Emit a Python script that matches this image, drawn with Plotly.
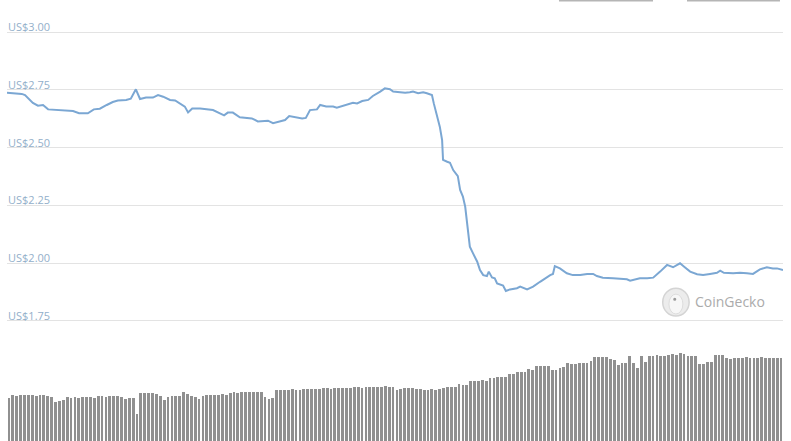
import plotly.graph_objects as go

# ---- data ----
# time in hours since start of the 7-day window
price_hours = [0.0, 3.2, 3.9, 5.6, 6.7, 7.8, 8.9, 11.5, 14.3, 15.6, 17.5, 18.8, 20.1, 21.6, 22.9,
               24.0, 25.8, 26.8, 27.9, 28.8, 30.1, 31.6, 32.7, 33.8, 35.3, 36.4, 37.5, 38.5, 39.2,
               40.1, 41.8, 44.6, 46.1, 47.0, 47.8, 48.9, 50.4, 53.0, 54.3, 55.9, 56.5, 57.6, 59.1,
               60.2, 61.1, 62.8, 63.9, 64.7, 65.6, 67.1, 67.8, 69.1, 70.6, 71.4, 72.7, 74.2, 74.9,
               75.8, 76.9, 78.2, 79.2, 80.8, 81.8, 82.9, 83.6, 85.1, 86.2, 87.2, 87.9, 89.0, 90.1,
               90.9, 91.6, 92.0, 92.4, 93.1, 93.7, 94.2, 94.4, 95.3, 95.9, 96.6, 97.6, 98.1, 98.7,
               99.2, 99.6, 100.2, 100.9, 101.8, 102.4, 103.1, 103.9, 104.3, 105.0, 105.6, 106.1,
               107.4, 108.0, 108.9, 110.4, 111.1, 112.6, 113.9, 115.4, 116.5, 117.6, 118.2, 118.6,
               119.7, 121.2, 122.5, 124.1, 125.6, 126.9, 127.7, 129.0, 131.2, 132.7, 134.2, 134.9,
               137.0, 138.6, 139.9, 141.4, 142.9, 144.2, 145.7, 146.6, 147.9, 149.4, 150.7, 152.2,
               153.7, 154.4, 155.2, 157.2, 158.7, 160.2, 161.5, 163.0, 164.5, 165.8, 166.7, 168.0]
price_usd = [2.738, 2.733, 2.728, 2.694, 2.682, 2.685, 2.666, 2.662, 2.659, 2.649, 2.649, 2.666, 2.669,
             2.685, 2.698, 2.704, 2.707, 2.712, 2.753, 2.711, 2.717, 2.717, 2.728, 2.721, 2.707, 2.705,
             2.690, 2.678, 2.653, 2.670, 2.670, 2.663, 2.649, 2.640, 2.652, 2.652, 2.632, 2.627, 2.614,
             2.614, 2.617, 2.606, 2.616, 2.620, 2.637, 2.632, 2.627, 2.629, 2.663, 2.666, 2.685, 2.679,
             2.678, 2.673, 2.682, 2.692, 2.695, 2.692, 2.702, 2.707, 2.724, 2.743, 2.757, 2.753, 2.743,
             2.740, 2.738, 2.740, 2.743, 2.736, 2.740, 2.736, 2.733, 2.728, 2.692, 2.641, 2.591, 2.533,
             2.447, 2.439, 2.435, 2.403, 2.377, 2.317, 2.288, 2.244, 2.172, 2.071, 2.042, 2.006, 1.970,
             1.948, 1.944, 1.963, 1.938, 1.934, 1.912, 1.903, 1.879, 1.886, 1.891, 1.898, 1.886, 1.898,
             1.919, 1.934, 1.948, 1.953, 1.987, 1.977, 1.956, 1.948, 1.948, 1.953, 1.953, 1.944, 1.937,
             1.934, 1.933, 1.930, 1.924, 1.934, 1.934, 1.937, 1.963, 1.992, 1.982, 1.999, 1.984, 1.963,
             1.952, 1.948, 1.953, 1.958, 1.967, 1.958, 1.956, 1.958, 1.956, 1.953, 1.973, 1.982, 1.977,
             1.977, 1.970]

# volume per period (millions, arbitrary scale)
volume = [9.75,
          10.4, 10.2, 10.4, 10.4, 10.5, 10.4, 10.3, 10.4, 10.4, 10.2,
          10.0, 8.9, 9.1, 9.3,
          10.0, 9.8, 9.9, 9.7, 9.9, 10.0, 9.9, 9.8,
          10.1, 10.2, 10.0, 10.1, 10.2, 10.2, 10.0,
          9.6, 9.8, 9.7, 6.1,
          10.9, 10.9, 10.8, 10.8, 10.7, 10.2, 9.4,
          10.0, 10.2, 10.3, 10.2, 11.0, 10.6,
          10.2, 10.0, 9.6, 10.1,
          10.4, 10.5, 10.4, 10.5, 10.6, 10.4,
          10.8, 11.0, 10.9, 11.0, 11.0,
          11.1, 11.0, 11.1, 11.2,
          10.0, 9.6, 9.7,
          11.6, 11.5, 11.6, 11.6, 11.7, 11.6, 11.6, 11.7,
          11.8, 11.8, 11.7, 11.8,
          12.0, 12.0, 11.9, 12.0, 12.1, 12.0, 12.0, 12.1,
          12.2, 12.2, 12.1, 12.2, 12.3, 12.2, 12.2,
          12.3, 12.4, 12.3, 12.3,
          11.6, 11.7, 12.1, 12.0, 12.1, 11.8, 11.9,
          11.6, 11.6, 11.7, 11.6, 11.9, 12.0,
          12.3, 12.2, 12.3, 12.9, 12.7, 12.6,
          13.6, 13.7, 13.7, 13.8, 13.7, 14.2, 14.3,
          14.6, 14.5, 14.6, 15.2, 15.1, 15.6, 15.6, 15.7,
          16.3, 16.2, 17.0, 17.0, 17.1, 17.0, 16.1, 16.0,
          16.6, 16.7, 17.8, 17.5, 17.4, 17.6, 17.7, 17.6,
          18.2, 19.1, 19.1, 19.1, 19.0, 18.5, 18.4, 17.2,
          17.8, 17.7, 19.3, 17.6, 16.5, 19.3, 18.0,
          19.3, 19.3, 19.4, 19.3, 19.3, 19.4,
          19.7, 19.6, 20.0, 19.7, 19.3, 19.3, 19.2,
          17.5, 17.4, 18.0, 17.9, 19.4, 19.4, 19.5,
          18.8, 18.7, 18.8,
          18.9, 18.9, 19.0, 18.9, 18.9, 18.9, 19.0, 18.9, 18.9, 18.9, 18.9, 18.8]

price_ticks = [1.75, 2.00, 2.25, 2.50, 2.75, 3.00]
price_tick_labels = ["US$1.75", "US$2.00", "US$2.25", "US$2.50", "US$2.75", "US$3.00"]

TOTAL_HOURS = 168.0
n_bars = len(volume)
step = TOTAL_HOURS / n_bars
volume_hours = [(i + 0.5) * step for i in range(n_bars)]

fig = go.Figure()

fig.add_trace(go.Bar(
    x=volume_hours, y=volume, yaxis="y2",
    marker=dict(color="#909090", line=dict(width=0)),
    width=step * 0.72, hoverinfo="skip", showlegend=False,
))

fig.add_trace(go.Scatter(
    x=price_hours, y=price_usd, mode="lines",
    line=dict(color="#7ba7d3", width=2), showlegend=False,
))

annotations = []
for v, lab in zip(price_ticks, price_tick_labels):
    annotations.append(dict(
        x=0, xref="paper", y=v, yref="y", xanchor="left", yanchor="bottom",
        text=lab, showarrow=False, yshift=-4, xshift=-1,
        font=dict(family="Open Sans", size=11, color="#93afca"),
    ))

# CoinGecko watermark text
annotations.append(dict(
    x=0.884, xref="paper", y=0.3163, yref="paper", xanchor="left", yanchor="middle",
    text="CoinGecko", showarrow=False,
    font=dict(family="Open Sans", size=14, color="#ababab"),
))

shapes = [
    # watermark logo
    dict(type="circle", xref="paper", yref="paper", x0=0.845, x1=0.879, y0=0.2834, y1=0.3463,
         fillcolor="#ececec", line=dict(color="#d4d4d4", width=1.5), layer="below"),
    dict(type="circle", xref="paper", yref="paper", x0=0.853, x1=0.871, y0=0.288, y1=0.333,
         fillcolor="#f7f7f7", line=dict(color="#dddddd", width=1), layer="below"),
    dict(type="circle", xref="paper", yref="paper", x0=0.8585, x1=0.8625, y0=0.318, y1=0.325,
         fillcolor="#9a9a9a", line=dict(width=0), layer="below"),
    # cut-off buttons at top
    dict(type="line", xref="paper", yref="paper", x0=0.7113, x1=0.8325, y0=0.9985, y1=0.9985,
         line=dict(color="#b5b5b5", width=1.5)),
    dict(type="line", xref="paper", yref="paper", x0=0.8763, x1=0.9961, y0=0.9985, y1=0.9985,
         line=dict(color="#b5b5b5", width=1.5)),
]

fig.update_layout(
    width=791, height=441,
    margin=dict(l=7, r=8, t=0, b=0),
    paper_bgcolor="white", plot_bgcolor="white",
    bargap=0,
    xaxis=dict(range=[0, TOTAL_HOURS], visible=False, showgrid=False, zeroline=False),
    yaxis=dict(range=[1.2292, 3.1399], tickvals=price_ticks, showticklabels=False,
               showgrid=True, gridcolor="#e3e3e3", gridwidth=1, zeroline=False, showline=False),
    yaxis2=dict(range=[0, 100], overlaying="y", visible=False, showgrid=False, zeroline=False),
    annotations=annotations,
    shapes=shapes,
    showlegend=False,
)

fig.write_html(
    "out.html",
    config={"displayModeBar": False},
    post_script="document.body.style.margin='0';document.body.style.overflow='hidden';",
)
